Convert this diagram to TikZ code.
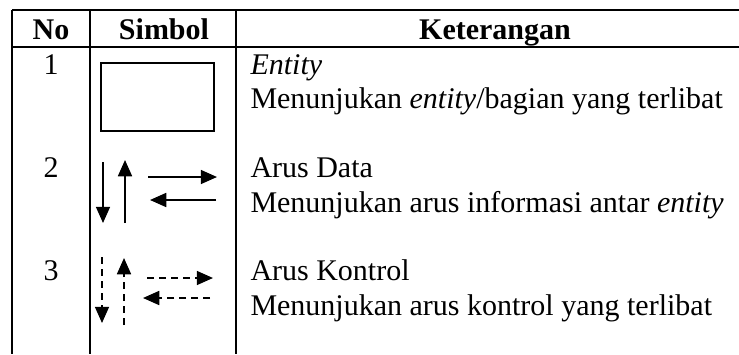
\documentclass[tikz,border=0pt]{standalone}
\usepackage{fontspec}
\setmainfont{Liberation Serif}
\usetikzlibrary{arrows.meta, positioning}

\begin{document}
\begin{tikzpicture}[x=0.4pt, y=-0.4pt, >={Triangle[length=6.5pt,width=5.6pt]}]
    % Define styles
    \tikzstyle{head} = [inner sep=0pt, anchor=base, font=\fontsize{12}{14}\selectfont\bfseries]
    \tikzstyle{txt} = [inner sep=0pt, anchor=base west, font=\fontsize{12}{14}\selectfont]
    \tikzstyle{num} = [inner sep=0pt, anchor=base, font=\fontsize{12}{14}\selectfont]
    \tikzstyle{entitybox} = [rectangle, draw, line width=0.6pt, minimum width=45.2pt, minimum height=27.2pt]
    \tikzstyle{rule} = [line width=0.9pt]
    \tikzstyle{thinrule} = [line width=0.5pt]
    \tikzstyle{flow} = [draw, ->, line width=0.7pt]
    \tikzstyle{ctrl} = [draw, ->, line width=0.7pt, dash pattern=on 2.8pt off 2pt]

    \useasboundingbox (0,0) rectangle (739,354);

    % Table rules
    \draw [rule] (12,10) -- (739,10);
    \draw [rule] (12,47) -- (739,47);
    \draw [rule] (12,10) -- (12,354);
    \draw [thinrule] (90,10) -- (90,354);
    \draw [rule] (236,10) -- (236,354);

    % Header
    \node [head] (hno) at (51,39) {No};
    \node [head] (hsym) at (164,39) {Simbol};
    \node [head] (hket) at (495,39) {Keterangan};

    % Row 1
    \node [num] (no1) at (51,74) {1};
    \node [entitybox] (ent) at (157.5,97) {};
    \node [txt] (ket1a) at (250,74) {\textit{Entity}};
    \node [txt] (ket1b) at (250,108) {Menunjukan \textit{entity}/bagian yang terlibat};

    % Row 2
    \node [num] (no2) at (51,177) {2};
    \coordinate (d2s) at (103,162);
    \coordinate (d2e) at (103,223);
    \coordinate (u2s) at (125,223);
    \coordinate (u2e) at (125,160);
    \coordinate (r2s) at (148,177);
    \coordinate (r2e) at (217,177);
    \coordinate (l2s) at (216,200);
    \coordinate (l2e) at (150,200);
    \path [flow] (d2s) -- (d2e);
    \path [flow] (u2s) -- (u2e);
    \path [flow] (r2s) -- (r2e);
    \path [flow] (l2s) -- (l2e);
    \node [txt] (ket2a) at (250,177) {Arus Data};
    \node [txt] (ket2b) at (250,212) {Menunjukan arus informasi antar \textit{entity}};

    % Row 3
    \node [num] (no3) at (51,280) {3};
    \coordinate (d3s) at (102,257);
    \coordinate (d3e) at (102,323);
    \coordinate (u3s) at (124,325);
    \coordinate (u3e) at (124,258);
    \coordinate (r3s) at (147,278);
    \coordinate (r3e) at (213,278);
    \coordinate (l3s) at (210,298);
    \coordinate (l3e) at (143,298);
    \path [ctrl] (d3s) -- (d3e);
    \path [ctrl] (u3s) -- (u3e);
    \path [ctrl] (r3s) -- (r3e);
    \path [ctrl] (l3s) -- (l3e);
    \node [txt] (ket3a) at (250,280) {Arus Kontrol};
    \node [txt] (ket3b) at (250,315) {Menunjukan arus kontrol yang terlibat};

\end{tikzpicture}
\end{document}
